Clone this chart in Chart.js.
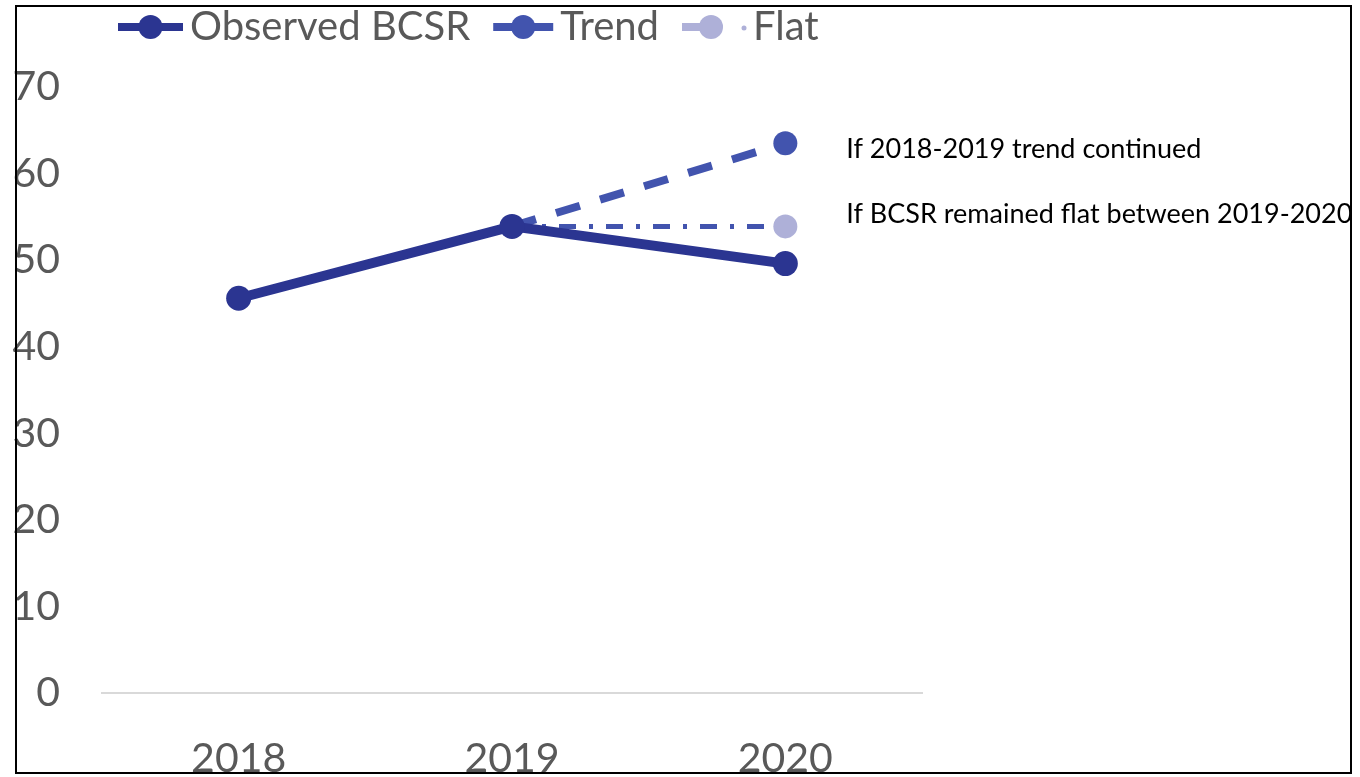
<!DOCTYPE html>
<html>
<head>
<meta charset="utf-8">
<script src="https://cdn.jsdelivr.net/npm/chart.js@4.4.1/dist/chart.umd.min.js"></script>
<style>
  html, body { margin: 0; padding: 0; background: #fff; }
  canvas { display: block; }
</style>
</head>
<body>
<canvas id="bcsr" width="1360" height="777"></canvas>
<script>
// BCSR by year, plus the two 2020 scenarios
const years = ['2018', '2019', '2020'];
const observed = [45.6, 53.9, 49.6];
const trend = [null, 53.9, 63.5];
const flat = [null, 53.9, 53.9];
const yMin = 0, yMax = 70, yStep = 10;
const notes = ['If 2018-2019 trend continued', 'If BCSR remained flat between 2019-2020'];

const NAVY = '#2b3591';
const BLUE = '#4254ae';
const LAVENDER = '#aeb0d8';
const GREY = '#595959';
const FONT = 'Lato, "Open Sans", sans-serif';

// white page + black frame
const framePlugin = {
  id: 'frame',
  beforeDraw(chart) {
    const ctx = chart.ctx;
    ctx.save();
    ctx.fillStyle = '#fff';
    ctx.fillRect(0, 0, chart.width, chart.height);
    ctx.restore();
  },
  afterDraw(chart) {
    const ctx = chart.ctx;
    ctx.save();
    ctx.fillStyle = '#fff';
    ctx.fillRect(0, 774, chart.width, 3);
    ctx.fillRect(1353, 0, 7, chart.height);
    ctx.strokeStyle = '#000';
    ctx.lineWidth = 2;
    ctx.strokeRect(16, 6, 1335, 767);
    ctx.restore();
  }
};

// legend drawn as line + marker, like the series
const lineLegend = {
  id: 'lineLegend',
  afterDraw(chart) {
    const ctx = chart.ctx;
    const y = 27;
    let x = 118;
    ctx.save();
    ctx.font = '40px ' + FONT;
    ctx.textBaseline = 'middle';
    chart.data.datasets.forEach(ds => {
      const w = ds.legendMarker;
      const c = ds.legendColor;
      ctx.strokeStyle = c;
      ctx.fillStyle = c;
      ctx.lineWidth = 8;
      ctx.beginPath();
      ctx.moveTo(x, y);
      ctx.lineTo(ds.legendDotted ? x + w / 2 : x + w, y);
      ctx.stroke();
      ctx.beginPath();
      ctx.arc(x + w / 2, y, 12, 0, Math.PI * 2);
      ctx.fill();
      let tx = x + w + 7;
      if (ds.legendDotted) {
        ctx.beginPath();
        ctx.arc(x + w + 4, y + 1, 2.5, 0, Math.PI * 2);
        ctx.fill();
        tx = x + w + 13;
      }
      ctx.fillStyle = GREY;
      ctx.fillText(ds.label, tx, y);
      x = tx + ctx.measureText(ds.label).width + 23;
    });
    ctx.restore();
  }
};

// scenario notes beside the 2020 points
const scenarioNotes = {
  id: 'scenarioNotes',
  afterDatasetsDraw(chart) {
    const ctx = chart.ctx;
    const xs = chart.scales.x, ys = chart.scales.y;
    const nx = xs.getPixelForValue(2) + 61;
    ctx.save();
    ctx.font = '27px ' + FONT;
    ctx.fillStyle = '#000';
    ctx.textBaseline = 'middle';
    ctx.fillText(notes[0], nx, ys.getPixelForValue(trend[2]) + 6);
    ctx.fillText(notes[1], nx, ys.getPixelForValue(flat[2]) - 12);
    ctx.restore();
  }
};

new Chart(document.getElementById('bcsr'), {
  type: 'line',
  data: {
    labels: years,
    datasets: [
      {
        label: 'Observed BCSR',
        data: observed,
        borderColor: NAVY,
        backgroundColor: NAVY,
        borderWidth: 10,
        pointRadius: 12.5,
        pointHoverRadius: 12.5,
        pointBackgroundColor: NAVY,
        pointBorderWidth: 0,
        order: 0,
        legendColor: NAVY,
        legendMarker: 65
      },
      {
        label: 'Trend',
        data: trend,
        borderColor: BLUE,
        backgroundColor: BLUE,
        borderWidth: 8,
        borderDash: [25, 21],
        pointRadius: [0, 0, 12],
        pointHoverRadius: [0, 0, 12],
        pointBackgroundColor: BLUE,
        pointBorderWidth: 0,
        order: 1,
        legendColor: BLUE,
        legendMarker: 60
      },
      {
        label: 'Flat',
        data: flat,
        borderColor: BLUE,
        backgroundColor: LAVENDER,
        borderWidth: 5,
        borderDash: [17, 13, 4, 13],
        pointRadius: [0, 0, 12],
        pointHoverRadius: [0, 0, 12],
        pointBackgroundColor: LAVENDER,
        pointBorderWidth: 0,
        order: 2,
        legendColor: LAVENDER,
        legendMarker: 58,
        legendDotted: true
      }
    ]
  },
  options: {
    responsive: false,
    animation: false,
    events: [],
    layout: { padding: { top: 87, right: 438, left: 0, bottom: 0 } },
    plugins: {
      legend: { display: false },
      tooltip: { enabled: false }
    },
    scales: {
      x: {
        offset: true,
        grid: { display: false, drawTicks: false },
        border: { display: true, color: '#d9d9d9', width: 2 },
        ticks: { color: GREY, font: { family: FONT, size: 41 }, padding: 41 },
        afterFit(scale) { scale.height = 84; }
      },
      y: {
        min: yMin,
        max: yMax,
        grid: { display: false, drawTicks: false },
        border: { display: false },
        ticks: { stepSize: yStep, color: GREY, font: { family: FONT, size: 41 }, padding: 42 },
        afterFit(scale) { scale.width = 102; }
      }
    }
  },
  plugins: [framePlugin, lineLegend, scenarioNotes]
});
</script>
</body>
</html>
